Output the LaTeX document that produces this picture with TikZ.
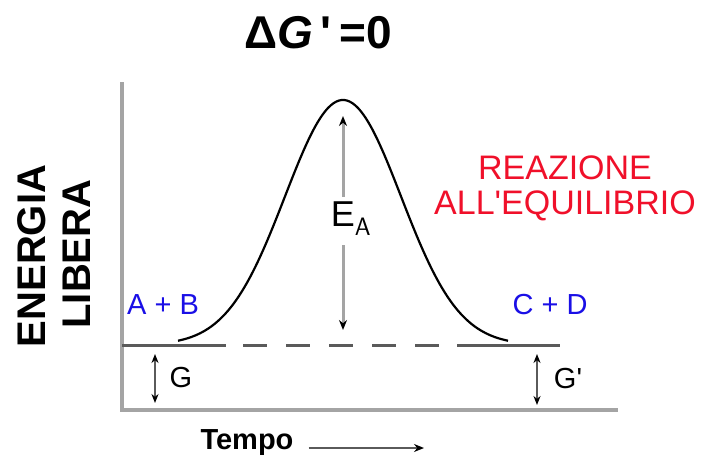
\documentclass[tikz,border=0pt]{standalone}
\usepackage{fontspec}
\setmainfont{Liberation Sans}
\usepackage{xcolor}
\usetikzlibrary{arrows.meta,positioning}
\definecolor{axisgray}{HTML}{A4A4A4}
\definecolor{basegray}{HTML}{5A5A5A}
\definecolor{molblue}{HTML}{1A0FE6}
\definecolor{eqred}{HTML}{F0102A}

\begin{document}
\begin{tikzpicture}[x=1pt, y=-1pt,
  axis/.style={draw=axisgray, line width=4pt},
  base/.style={draw=basegray, line width=3pt},
  curve/.style={draw=black, line width=2.2pt},
  tip/.style={Stealth[length=10pt,width=8pt,color=black]},
  arr/.style={{Stealth[length=9pt,width=7pt,color=black]}-{Stealth[length=9pt,width=7pt,color=black]},
    draw=basegray, line width=2.5pt},
  single/.style={-{Stealth[length=10pt,width=8pt,color=black]}, draw=axisgray, line width=3pt},
  mol/.style={font=\fontsize{29}{30}\selectfont, text=molblue, inner sep=0pt},
  lbl/.style={font=\bfseries\fontsize{29}{30}\selectfont, inner sep=0pt},
  red/.style={font=\fontsize{34}{38}\selectfont, text=eqred, inner sep=0pt}
]
\useasboundingbox (0,0) rectangle (713,463);

% Axes
\draw[axis] (122,82) -- (122,410) -- (618,410);

% Free energy baseline
\draw[base] (122,345) -- (226,345);
\draw[base, dash pattern=on 24pt off 19pt] (243,345) -- (457,345);
\draw[base] (457,345) -- (560,345);

% Reaction curve
\draw[curve] plot[domain=178:508, samples=120, smooth]
  (\x, {345-245*exp(-((\x-343)/58)^2/2)});

% Title and axis labels
\node[font=\bfseries\fontsize{46}{48}\selectfont, inner sep=0pt] (title)
  at (318,33) {Δ\textit{G}\,\textquotesingle\,=0};
\node[font=\bfseries\fontsize{40}{42}\selectfont, rotate=90, inner sep=0pt]
  (energia) at (32,256) {ENERGIA};
\node[font=\bfseries\fontsize{40}{42}\selectfont, rotate=90, inner sep=0pt]
  (libera) at (77,254) {LIBERA};
\node[lbl] (tempo) at (247,443) {Tempo};
\coordinate (tempoend) at (424,448);
\draw[-{Stealth[length=10pt,width=8pt,color=black]}, line width=2.5pt, draw=basegray]
  (tempo.east |- tempoend) ++(15,0) coordinate (tempostart) -- (tempoend);

% Reactants and products
\node[mol] (ab) at (163,305) {A + B};
\node[mol] (cd) at (550,305) {C + D};
\node[red] (reaz) at (565,168) {REAZIONE};
\node[red, below=10pt of reaz] (equil) {ALL\textquotesingle EQUILIBRIO};

% Activation energy
\node[font=\fontsize{36}{38}\selectfont, inner sep=0pt] (ea) at (351,219) {E$_{\mathsf{A}}$};
\coordinate (eatop) at (343,116);
\coordinate (eabot) at (343,330);
\draw[single] (343,197) -- (eatop);
\draw[single] (343,245) -- (eabot);

% G and G' arrows
\node[lbl, font=\fontsize{29}{30}\selectfont] (g) at (181,378) {G};
\node[lbl, font=\fontsize{29}{30}\selectfont] (gp) at (568,379) {G\textquotesingle};
\coordinate (gtop) at (155,354);
\coordinate (gbot) at (155,403);
\coordinate (gptop) at (537,354);
\coordinate (gpbot) at (537,405);
\draw[arr] (gtop) -- (gbot);
\draw[arr] (gptop) -- (gpbot);

\end{tikzpicture}
\end{document}
